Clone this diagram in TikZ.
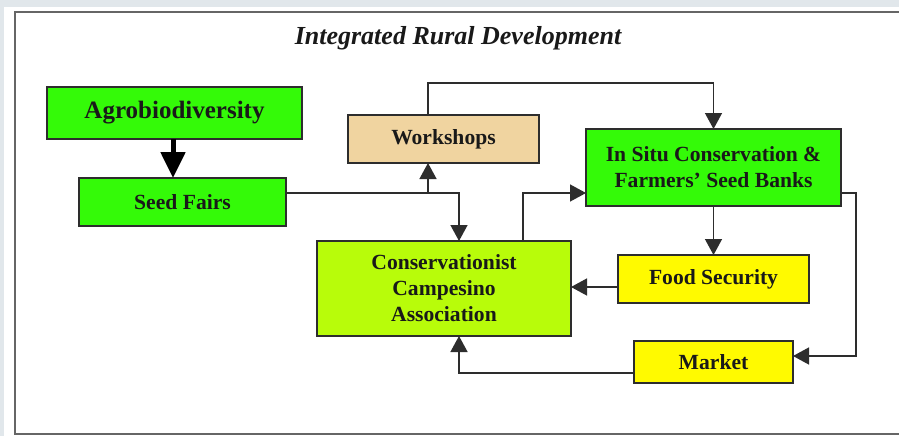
\documentclass[tikz,border=0pt]{standalone}
\usepackage{fontspec}
\setmainfont{Liberation Serif}
\usepackage{xcolor}
\usepackage{tikz}
\usetikzlibrary{shapes,arrows,positioning,calc,arrows.meta}

\definecolor{pagebg}{RGB}{225,231,235}
\definecolor{boxgreen}{RGB}{52,250,8}
\definecolor{limegreen}{RGB}{184,252,10}
\definecolor{boxyellow}{RGB}{255,250,0}
\definecolor{boxtan}{RGB}{240,212,160}
\definecolor{inkgray}{RGB}{45,45,45}

\begin{document}
\begin{tikzpicture}[
    x=1pt, y=-1pt,
    outer sep=0pt,
    box/.style={draw=inkgray, line width=1.4pt, rectangle, align=center, text=black!90,
        font=\fontsize{21.6}{26}\selectfont\bfseries, inner sep=2pt},
    conn/.style={draw=inkgray, line width=1.4pt, -{Triangle[width=17pt,length=16pt]}},
    bigconn/.style={draw=black, line width=5pt, -{Triangle[width=24pt,length=26pt]}}
]
    \useasboundingbox (0,0) rectangle (899,436);
    \fill [pagebg] (0,0) rectangle (899,436);
    \fill [white] (4,7) rectangle (899,436);
    \draw [gray!80!black, line width=1.6pt] (899,12) -- (15,12) -- (15,434) -- (899,434);

    \node [font=\fontsize{26}{30}\selectfont\bfseries\itshape, text=black!90] (title) at (458,38) {Integrated Rural Development};

    \node [box, fill=boxgreen, minimum width=255pt, minimum height=52pt, font=\fontsize{25}{30}\selectfont\bfseries] (agro) at (174.5,113) {Agrobiodiversity};
    \node [box, fill=boxgreen, minimum width=207pt, minimum height=48pt] (seed) at (182.5,202) {Seed Fairs};
    \node [box, fill=boxtan, minimum width=191pt, minimum height=48pt] (work) at (443.5,139) {Workshops};
    \node [box, fill=boxgreen, minimum width=255pt, minimum height=77pt] (insitu) at (713.5,167.5) {In Situ Conservation \&\\Farmers’ Seed Banks};
    \node [box, fill=limegreen, minimum width=254pt, minimum height=95pt] (assoc) at (444,288.5) {Conservationist\\Campesino\\Association};
    \node [box, fill=boxyellow, minimum width=191pt, minimum height=48pt] (food) at (713.5,279) {Food Security};
    \node [box, fill=boxyellow, minimum width=159pt, minimum height=42pt] (market) at (713.5,362) {Market};

    \coordinate (split) at ([xshift=-15.5pt]work.south |- 0,193);

    \draw [bigconn] ([xshift=-1.5pt]agro.south) -- ([xshift=-9.5pt]seed.north);
    \draw [conn] ([yshift=9pt]seed.east) -| ([xshift=15pt]assoc.north);
    \draw [conn] (split) -- (split |- work.south);
    \draw [conn] ([xshift=-15.5pt]work.north) -- ++(0,-32) -| (insitu.north);
    \draw [conn] ([xshift=79pt]assoc.north) |- ([yshift=-25.5pt]insitu.west);
    \draw [conn] (insitu.south) -- (food.north);
    \draw [conn] ([yshift=-8pt]food.west) -- ([yshift=-8pt]food.west -| assoc.east);
    \draw [conn] ([yshift=-25.5pt]insitu.east) -- ++(15,0) |- ([yshift=6pt]market.east);
    \draw [conn] ([yshift=-11pt]market.west) -| ([xshift=15pt]assoc.south);
\end{tikzpicture}
\end{document}
